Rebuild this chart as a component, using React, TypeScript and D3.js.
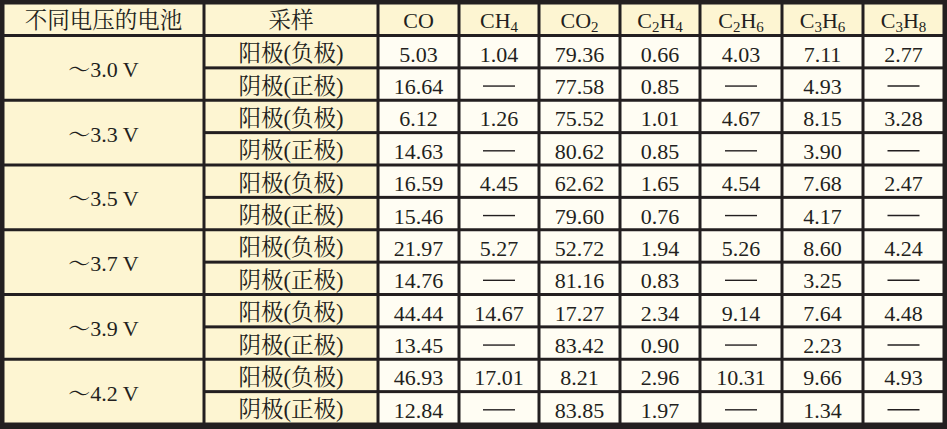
import * as d3 from 'd3';

// Table content
const voltages = ['～3.0 V', '～3.3 V', '～3.5 V', '～3.7 V', '～3.9 V', '～4.2 V'];
const sampleLabels = ['阳极(负极)', '阴极(正极)'];
const firstHeaders = ['不同电压的电池', '采样'];
// gas names split into [text, isSubscript] parts
const gasHeaders: [string, boolean][][] = [
  [['CO', false]],
  [['CH', false], ['4', true]],
  [['CO', false], ['2', true]],
  [['C', false], ['2', true], ['H', false], ['4', true]],
  [['C', false], ['2', true], ['H', false], ['6', true]],
  [['C', false], ['3', true], ['H', false], ['6', true]],
  [['C', false], ['3', true], ['H', false], ['8', true]],
];

// one row per voltage × sample; null = not detected (dash)
const anodeValues: (number | null)[][] = [
  [5.03, 1.04, 79.36, 0.66, 4.03, 7.11, 2.77],
  [6.12, 1.26, 75.52, 1.01, 4.67, 8.15, 3.28],
  [16.59, 4.45, 62.62, 1.65, 4.54, 7.68, 2.47],
  [21.97, 5.27, 52.72, 1.94, 5.26, 8.6, 4.24],
  [44.44, 14.67, 17.27, 2.34, 9.14, 7.64, 4.48],
  [46.93, 17.01, 8.21, 2.96, 10.31, 9.66, 4.93],
];
const cathodeValues: (number | null)[][] = [
  [16.64, null, 77.58, 0.85, null, 4.93, null],
  [14.63, null, 80.62, 0.85, null, 3.9, null],
  [15.46, null, 79.6, 0.76, null, 4.17, null],
  [14.76, null, 81.16, 0.83, null, 3.25, null],
  [13.45, null, 83.42, 0.9, null, 2.23, null],
  [12.84, null, 83.85, 1.97, null, 1.34, null],
];

const WIDTH = 947;
const HEIGHT = 429;
const OUTER = 4.5;
const INNER = 3;
// vertical rule centres (layout)
const COL_LINES = [0, 204, 378, 459, 539, 620, 700, 782, 863, WIDTH];
const HEADER_LINE = 35.5;
const BOTTOM_LINE = 424;

const INK = '#231f20';
const YELLOW = '#fdf5d2';
const CREAM = '#fffdf3';
const FONT = "'Liberation Serif', 'Times New Roman', 'Noto Serif CJK SC', 'Noto Sans CJK SC', serif";

export default function App() {
  const nRows = voltages.length * sampleLabels.length;
  const rowY = d3
    .scaleBand<number>()
    .domain(d3.range(nRows))
    .range([HEADER_LINE, BOTTOM_LINE]);
  const step = rowY.step();

  const colLeft = (i: number) => (i === 0 ? OUTER : COL_LINES[i] + INNER / 2);
  const colRight = (i: number) =>
    i === COL_LINES.length - 2 ? WIDTH - OUTER : COL_LINES[i + 1] - INNER / 2;
  const colMid = (i: number) => (colLeft(i) + colRight(i)) / 2;

  const rowTop = (r: number) => (rowY(r) ?? 0) + INNER / 2;
  const rowBottom = (r: number) =>
    r === nRows - 1 ? rowY(r)! + step - INNER / 2 : rowY(r)! + step - INNER / 2;

  const rows = voltages.flatMap((_, g) => [anodeValues[g], cathodeValues[g]]);
  const fmt = d3.format('.2f');

  const textProps = { fill: INK, fontFamily: FONT, fontSize: 22, textAnchor: 'middle' as const };

  return (
    <svg
      width={WIDTH}
      height={HEIGHT}
      style={{ position: 'absolute', left: 0, top: 0, display: 'block' }}
    >
      <rect x={0} y={0} width={WIDTH} height={HEIGHT} fill={INK} />

      {/* header row */}
      {COL_LINES.slice(0, -1).map((_, i) => (
        <rect
          key={`h-${i}`}
          x={colLeft(i)}
          y={OUTER}
          width={colRight(i) - colLeft(i)}
          height={HEADER_LINE - INNER / 2 - OUTER}
          fill={YELLOW}
        />
      ))}
      {firstHeaders.map((h, i) => (
        <text key={`ht-${i}`} {...textProps} fontSize={22.5} x={colMid(i)} y={HEADER_LINE - 8}>
          {h}
        </text>
      ))}
      {gasHeaders.map((parts, i) => (
        <text key={`gt-${i}`} {...textProps} x={colMid(i + 2)} y={HEADER_LINE - 8}>
          {parts.map(([t, sub], k) => (
            <tspan
              key={k}
              fontSize={sub ? 15 : 22}
              dy={sub ? 4 : k > 0 && parts[k - 1][1] ? -4 : 0}
            >
              {t}
            </tspan>
          ))}
        </text>
      ))}

      {/* voltage column: merged cells per group */}
      {voltages.map((v, g) => {
        const top = rowTop(g * 2);
        const bottom = rowBottom(g * 2 + 1);
        return (
          <g key={`v-${g}`}>
            <rect x={colLeft(0)} y={top} width={colRight(0) - colLeft(0)} height={bottom - top} fill={YELLOW} />
            <text {...textProps} x={colMid(0)} y={(top + bottom) / 2 + 9}>
              {v}
            </text>
          </g>
        );
      })}

      {/* sample + values */}
      {rows.map((vals, r) => {
        const top = rowTop(r);
        const bottom = rowBottom(r);
        const mid = (top + bottom) / 2;
        return (
          <g key={`r-${r}`}>
            <rect x={colLeft(1)} y={top} width={colRight(1) - colLeft(1)} height={bottom - top} fill={YELLOW} />
            <text {...textProps} fontSize={22.5} x={colMid(1)} y={mid + 9.5}>
              {sampleLabels[r % 2]}
            </text>
            {vals.map((val, c) => {
              const ci = c + 2;
              return (
                <g key={`c-${c}`}>
                  <rect
                    x={colLeft(ci)}
                    y={top}
                    width={colRight(ci) - colLeft(ci)}
                    height={bottom - top}
                    fill={CREAM}
                  />
                  {val === null ? (
                    <line
                      x1={colMid(ci) - 16}
                      x2={colMid(ci) + 16}
                      y1={mid + 2}
                      y2={mid + 2}
                      stroke={INK}
                      strokeWidth={1.4}
                    />
                  ) : (
                    <text {...textProps} x={colMid(ci)} y={mid + 10}>
                      {fmt(val)}
                    </text>
                  )}
                </g>
              );
            })}
          </g>
        );
      })}
    </svg>
  );
}
